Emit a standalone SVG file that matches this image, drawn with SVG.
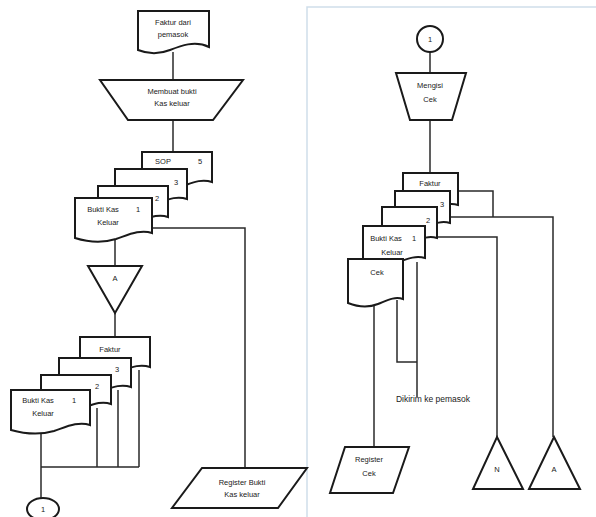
<svg xmlns="http://www.w3.org/2000/svg" width="596" height="517" viewBox="0 0 596 517">
<style>
.s{fill:#fff;stroke:#1a1a1a;stroke-width:2;stroke-linejoin:miter}
.c{fill:none;stroke:#2a2a2a;stroke-width:1.5}
.t{font-family:"Liberation Sans",Arial,sans-serif;font-size:7.5px;fill:#1a1a1a;text-anchor:middle}
.frame{fill:none;stroke:#cfdeea;stroke-width:1.5}
</style>
<rect width="596" height="517" fill="#fff"/>
<path class="frame" d="M307,517 V7 H596"/>

<g id="connectors">
<path class="c" d="M173,52 V80"/>
<path class="c" d="M173,120 V152"/>
<path class="c" d="M152,228 H245 V468"/>
<path class="c" d="M115,238 V266"/>
<path class="c" d="M115,313 V337"/>
<path class="c" d="M97,408 V467 M118,390 V467 M139,370 V467 M41,467 H139"/>
<path class="c" d="M41,432 V498"/>
<path class="c" d="M430,52 V73"/>
<path class="c" d="M430,120 V173"/>
<path class="c" d="M458,191 H493 V217"/>
<path class="c" d="M450,217 H553 V437"/>
<path class="c" d="M437,237 H497 V437"/>
<path class="c" d="M417,262 V397"/>
<path class="c" d="M397,300 V362 H417"/>
<path class="c" d="M374,304 V447"/>
</g>

<g id="faktur-pemasok">
<path class="s" d="M138,11 H209 V47 C195,40 180,46 170,50 C160,54 148,54 138,50 Z"/>
<text class="t" x="173" y="25">Faktur dari</text>
<text class="t" x="173" y="37">pemasok</text>
</g>

<g id="membuat-bukti">
<path class="s" d="M100,80 H243 L213,120 H128 Z"/>
<text class="t" x="172" y="94">Membuat bukti</text>
<text class="t" x="172" y="106">Kas keluar</text>
</g>

<g id="stack1">
<g id="sop5">
<path class="s" d="M142,152 H212 V182 C200,178 190,184 180,187 C168,190 155,189 142,186 Z"/>
<text class="t" x="163" y="164">SOP</text>
<text class="t" x="200" y="164">5</text>
</g>
<g id="copy3a">
<path class="s" d="M115,169 H187 V199 C175,195 165,201 155,204 C143,207 128,206 115,203 Z"/>
<text class="t" x="176" y="185">3</text>
</g>
<g id="copy2a">
<path class="s" d="M98,186 H168 V217 C157,213 147,219 137,222 C125,225 110,224 98,221 Z"/>
<text class="t" x="157" y="201">2</text>
</g>
<g id="bkk1a">
<path class="s" d="M75,198 H152 V233 C140,229 128,235 116,239 C103,243 88,242 75,238 Z"/>
<text class="t" x="103" y="212">Bukti Kas</text>
<text class="t" x="138" y="212">1</text>
<text class="t" x="108" y="225">Keluar</text>
</g>
</g>

<g id="offline-a-left">
<path class="s" d="M88,266 H142 L115,313 Z"/>
<text class="t" x="115" y="281">A</text>
</g>

<g id="stack2">
<g id="faktur-b">
<path class="s" d="M80,337 H150 V367 C138,363 128,369 118,372 C106,375 93,374 80,371 Z"/>
<text class="t" x="110" y="352">Faktur</text>
</g>
<g id="copy3b">
<path class="s" d="M59,358 H131 V387 C119,383 109,389 99,392 C87,395 72,394 59,391 Z"/>
<text class="t" x="117" y="372">3</text>
</g>
<g id="copy2b">
<path class="s" d="M41,375 H111 V404 C100,400 90,406 80,409 C68,412 54,411 41,408 Z"/>
<text class="t" x="97" y="389">2</text>
</g>
<g id="bkk1b">
<path class="s" d="M11,390 H90 V425 C78,421 66,427 54,431 C40,435 25,434 11,430 Z"/>
<text class="t" x="38" y="403">Bukti Kas</text>
<text class="t" x="74" y="403">1</text>
<text class="t" x="43" y="416">Keluar</text>
</g>
</g>

<g id="connector-1-left">
<ellipse class="s" cx="43" cy="509" rx="16" ry="11"/>
<text class="t" x="43" y="512">1</text>
</g>

<g id="register-bkk">
<path class="s" d="M202,468 H307 L278,508 H172 Z"/>
<text class="t" x="242" y="485">Register Bukti</text>
<text class="t" x="242" y="497">Kas keluar</text>
</g>

<g id="connector-1-right">
<circle class="s" cx="430" cy="39" r="13"/>
<text class="t" x="430" y="42">1</text>
</g>

<g id="mengisi-cek">
<path class="s" d="M396,73 H466 L452,120 H410 Z"/>
<text class="t" x="430" y="88">Mengisi</text>
<text class="t" x="430" y="102">Cek</text>
</g>

<g id="stack3">
<g id="faktur-c">
<path class="s" d="M403,173 H458 V205 C448,202 440,207 432,210 C423,213 413,212 403,209 Z"/>
<text class="t" x="430" y="186">Faktur</text>
</g>
<g id="copy3c">
<path class="s" d="M395,191 H450 V223 C440,220 432,225 424,228 C415,231 405,230 395,227 Z"/>
<text class="t" x="442" y="207">3</text>
</g>
<g id="copy2c">
<path class="s" d="M382,207 H437 V238 C427,235 419,240 411,243 C402,246 392,245 382,242 Z"/>
<text class="t" x="428" y="223">2</text>
</g>
<g id="bkk1c">
<path class="s" d="M363,226 H425 V258 C414,255 405,260 396,263 C386,266 374,265 363,262 Z"/>
<text class="t" x="386" y="241">Bukti Kas</text>
<text class="t" x="414" y="241">1</text>
<text class="t" x="392" y="255">Keluar</text>
</g>
<g id="cek">
<path class="s" d="M348,259 H403 V299 C394,296 386,301 378,304 C368,308 358,307 348,303 Z"/>
<text class="t" x="377" y="275">Cek</text>
</g>
</g>

<text id="dikirim" class="t" x="433" y="402" style="font-size:8.5px">Dikirim ke pemasok</text>

<g id="register-cek">
<path class="s" d="M345,447 H409 L393,493 H330 Z"/>
<text class="t" x="369" y="462">Register</text>
<text class="t" x="369" y="476">Cek</text>
</g>

<g id="offline-n">
<path class="s" d="M497,437 L523,489 H473 Z"/>
<text class="t" x="497" y="472">N</text>
</g>

<g id="offline-a-right">
<path class="s" d="M554,437 L580,489 H529 Z"/>
<text class="t" x="554" y="472">A</text>
</g>
</svg>
